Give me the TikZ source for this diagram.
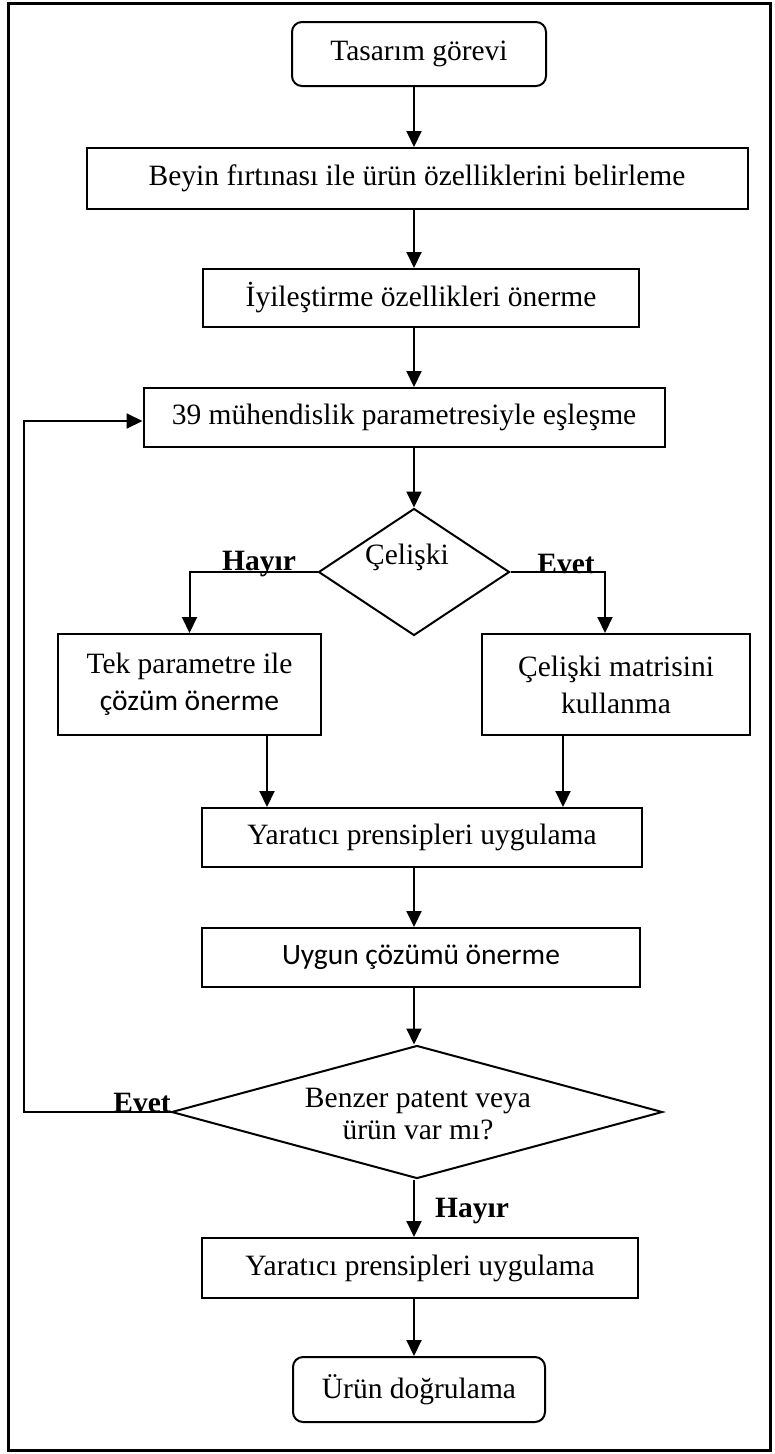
\documentclass[tikz,border=0pt]{standalone}
\usepackage{fontspec}
\setmainfont{Liberation Serif}
\newfontfamily\carlito{Carlito}
\usetikzlibrary{shapes.geometric,arrows.meta}
\begin{document}
\begin{tikzpicture}[x=1pt,y=-1pt,
  every node/.style={font=\fontsize{29.5}{37}\selectfont, inner sep=0pt},
  box/.style={draw, line width=2pt, rectangle, align=center},
  rbox/.style={box, rounded corners=10pt},
  dia/.style={draw, line width=2pt, diamond, inner sep=0pt},
  arr/.style={line width=2pt, -{Triangle[length=16pt,width=15pt]}},
  lbl/.style={font=\bfseries\fontsize{29.5}{37}\selectfont, anchor=base}]
\useasboundingbox (0,0) rectangle (774,1454);
\draw[line width=2.6pt] (8.5,3.5) rectangle (770.5,1450.5);
\coordinate (ax) at (414,0);
\coordinate (fbt) at (24,421);
% nodes
\node[rbox, minimum width=254pt, minimum height=64pt] (t) at (419,54) {Tasarım görevi};
\node[box, minimum width=661pt, minimum height=61pt] (b) at (417,178.5) {Beyin fırtınası ile ürün özelliklerini belirleme};
\node[box, minimum width=436pt, minimum height=58pt] (i) at (421,298) {İyileştirme özellikleri önerme};
\node[box, minimum width=521pt, minimum height=59pt] (m) at (404,417.5) {39 mühendislik parametresiyle eşleşme};
\node[dia, minimum width=191pt, minimum height=127pt] (d1) at (414,572) {};
\node[anchor=base] (d1t) at (407,564) {Çelişki};
\node[box, minimum width=263pt, minimum height=101pt] (L) at (189.5,684.5) {Tek parametre ile\\{\carlito çözüm önerme}};
\node[box, minimum width=268pt, minimum height=101pt] (R) at (616,684.5) {Çelişki matrisini\\kullanma};
\node[box, minimum width=440pt, minimum height=59pt] (y1) at (422,837.5) {Yaratıcı prensipleri uygulama};
\node[box, minimum width=438pt, minimum height=59pt, font=\carlito\fontsize{29.5}{37}\selectfont] (u) at (421,957.5) {Uygun çözümü önerme};
\node[dia, minimum width=491pt, minimum height=133pt] (d2) at (417,1112) {};
\node[align=center, font=\fontsize{29.5}{32}\selectfont] (d2t) at (418,1114) {Benzer patent veya\\ürün var mı?};
\node[box, minimum width=436pt, minimum height=60pt] (y2) at (420,1268) {Yaratıcı prensipleri uygulama};
\node[rbox, minimum width=252pt, minimum height=65pt] (p) at (419,1389.5) {Ürün doğrulama};
% labels
\node[lbl] (h1) at (259,570) {Hayır};
\node[lbl] (e1) at (566,573) {Evet};
\node[lbl] (e2) at (142,1112) {Evet};
\node[lbl] (h2) at (472,1217) {Hayır};
% connectors
\draw[arr] (t.south -| ax) -- (b.north -| ax);
\draw[arr] (b.south -| ax) -- (i.north -| ax);
\draw[arr] (i.south -| ax) -- (m.north -| ax);
\draw[arr] (m.south -| ax) -- (d1.north);
\draw[arr] (d1.west) -| (L.north);
\draw[arr] (d1.east) -| ([xshift=-11pt]R.north);
\draw[arr] ([xshift=77.5pt]L.south) -- ([xshift=77.5pt]L.south |- y1.north);
\draw[arr] ([xshift=-53pt]R.south) -- ([xshift=-53pt]R.south |- y1.north);
\draw[arr] (y1.south -| ax) -- (u.north -| ax);
\draw[arr] (u.south -| ax) -- (d2.north -| ax);
\draw[arr] (d2.south -| ax) -- (y2.north -| ax);
\draw[arr] (y2.south -| ax) -- (p.north -| ax);
\draw[arr] (d2.west) -- (d2.west -| fbt) -- (fbt) -- (fbt -| m.west);
\end{tikzpicture}
\end{document}
